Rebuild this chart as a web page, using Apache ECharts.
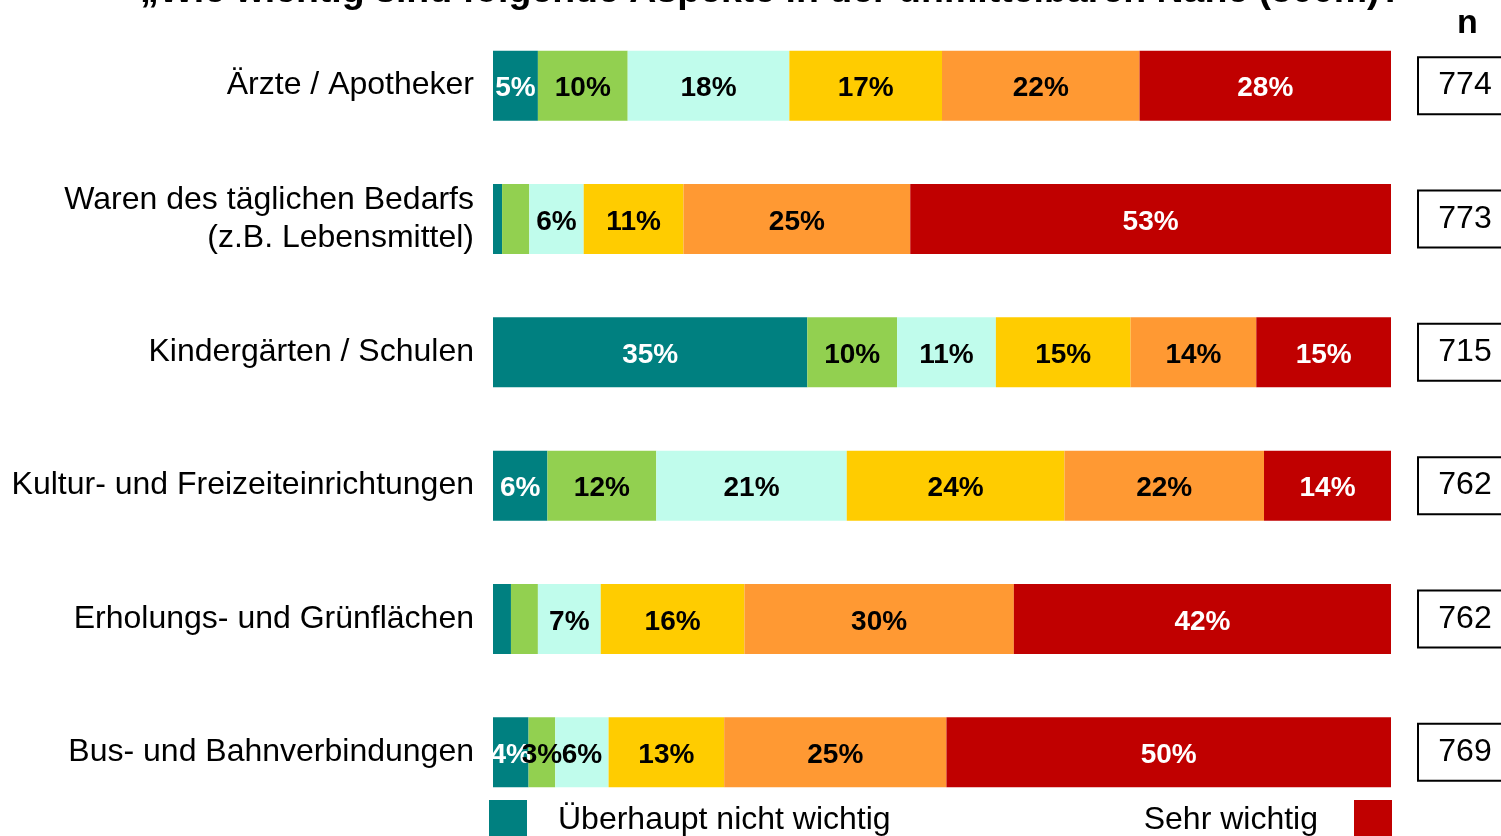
<!DOCTYPE html>
<html>
<head>
<meta charset="utf-8">
<script src="https://cdn.jsdelivr.net/npm/echarts@6/dist/echarts.min.js"></script>
<style>
  html, body { margin: 0; padding: 0; background: #fff; }
  #main { width: 1501px; height: 836px; }
</style>
</head>
<body>
<div id="main"></div>
<script>
// Kategorien von oben nach unten
var categories = [
  'Ärzte / Apotheker',
  'Waren des täglichen Bedarfs\n(z.B. Lebensmittel)',
  'Kindergärten / Schulen',
  'Kultur- und Freizeiteinrichtungen',
  'Erholungs- und Grünflächen',
  'Bus- und Bahnverbindungen'
];
var nValues = [774, 773, 715, 762, 762, 769];

// Prozentwerte je Stufe (1 = überhaupt nicht wichtig ... 6 = sehr wichtig)
var stufe1 = [5, 1, 35, 6, 2, 4];
var stufe2 = [10, 3, 10, 12, 3, 3];
var stufe3 = [18, 6, 11, 21, 7, 6];
var stufe4 = [17, 11, 15, 24, 16, 13];
var stufe5 = [22, 25, 14, 22, 30, 25];
var stufe6 = [28, 53, 15, 14, 42, 50];

var seriesNames = ['Überhaupt nicht wichtig', 'Stufe 2', 'Stufe 3', 'Stufe 4', 'Stufe 5', 'Sehr wichtig'];
var colors = ['#008080', '#92D050', '#C0FCEC', '#FFCC00', '#FF9933', '#C00000'];
var labelColors = ['#fff', '#000', '#000', '#000', '#000', '#fff'];
// Beschriftungen, die im Original fehlen: [Zeile, Stufe]
var hiddenLabels = [[1, 0], [1, 1], [4, 0], [4, 1]];

var stufen = [stufe1, stufe2, stufe3, stufe4, stufe5, stufe6];
var rowSums = categories.map(function (c, i) {
  return stufen.reduce(function (s, arr) { return s + arr[i]; }, 0);
});

var font = 'Liberation Sans, Arial, Helvetica, sans-serif';

var series = stufen.map(function (arr, k) {
  return {
    name: seriesNames[k],
    type: 'bar',
    stack: 'total',
    barWidth: 70,
    itemStyle: { color: colors[k] },
    label: {
      show: true,
      position: 'inside',
      offset: [0, 3],
      color: labelColors[k],
      fontFamily: font,
      fontWeight: 'bold',
      fontSize: 28,
      formatter: function (p) { return arr[p.dataIndex] + '%'; }
    },
    data: arr.map(function (v, i) {
      var item = { value: v / rowSums[i] * 100 };
      hiddenLabels.forEach(function (h) {
        if (h[0] === i && h[1] === k) item.label = { show: false };
      });
      return item;
    })
  };
});

// letzte Beschriftung sitzt im Original etwas höher
var catData = categories.map(function (c, i) {
  if (i === categories.length - 1) {
    return { value: c, textStyle: { padding: [0, 0, 10, 0] } };
  }
  return c;
});

var myChart = echarts.init(document.getElementById('main'));
var option = {
  backgroundColor: '#fff',
  animation: false,
  title: [{
    text: '„Wie wichtig sind folgende Aspekte in der unmittelbaren Nähe (500m)?“',
    left: 140,
    top: -27,
    padding: 0,
    textStyle: { fontFamily: font, fontWeight: 'bold', fontSize: 37.5, color: '#000' }
  }, {
    text: 'n',
    left: 1457,
    top: 7,
    padding: 0,
    textStyle: { fontFamily: font, fontWeight: 'bold', fontSize: 34, color: '#000' }
  }],
  legend: [{
    data: ['Überhaupt nicht wichtig'],
    left: 489,
    top: 800,
    padding: 0,
    icon: 'rect',
    itemWidth: 38,
    itemHeight: 40,
    textStyle: { fontFamily: font, fontSize: 32, color: '#000', padding: [0, 0, 0, 26] }
  }, {
    data: ['Sehr wichtig'],
    right: 109,
    top: 800,
    padding: 0,
    align: 'right',
    icon: 'rect',
    itemWidth: 38,
    itemHeight: 40,
    textStyle: { fontFamily: font, fontSize: 32, color: '#000', padding: [0, 31, 0, 0] }
  }],
  grid: { left: 493, right: 110, top: 19, bottom: 17, outerBoundsMode: 'none', containLabel: false },
  xAxis: { type: 'value', min: 0, max: 100, show: false },
  yAxis: [{
    type: 'category',
    inverse: true,
    data: catData,
    axisLine: { show: false },
    axisTick: { show: false },
    axisLabel: {
      margin: 19,
      color: '#000',
      fontFamily: font,
      fontSize: 32,
      lineHeight: 38,
      padding: [6, 0, 0, 0]
    }
  }, {
    type: 'category',
    inverse: true,
    position: 'right',
    data: categories,
    axisLine: { show: false },
    axisTick: { show: false },
    axisLabel: {
      margin: 27,
      align: 'left',
      formatter: function (v, i) { return '{b|' + nValues[i] + '}'; },
      rich: {
        b: {
          width: 94,
          height: 57,
          align: 'center',
          borderColor: '#000',
          borderWidth: 2,
          color: '#000',
          fontFamily: font,
          fontSize: 32
        }
      }
    }
  }],
  series: series
};
myChart.setOption(option);
</script>
</body>
</html>
